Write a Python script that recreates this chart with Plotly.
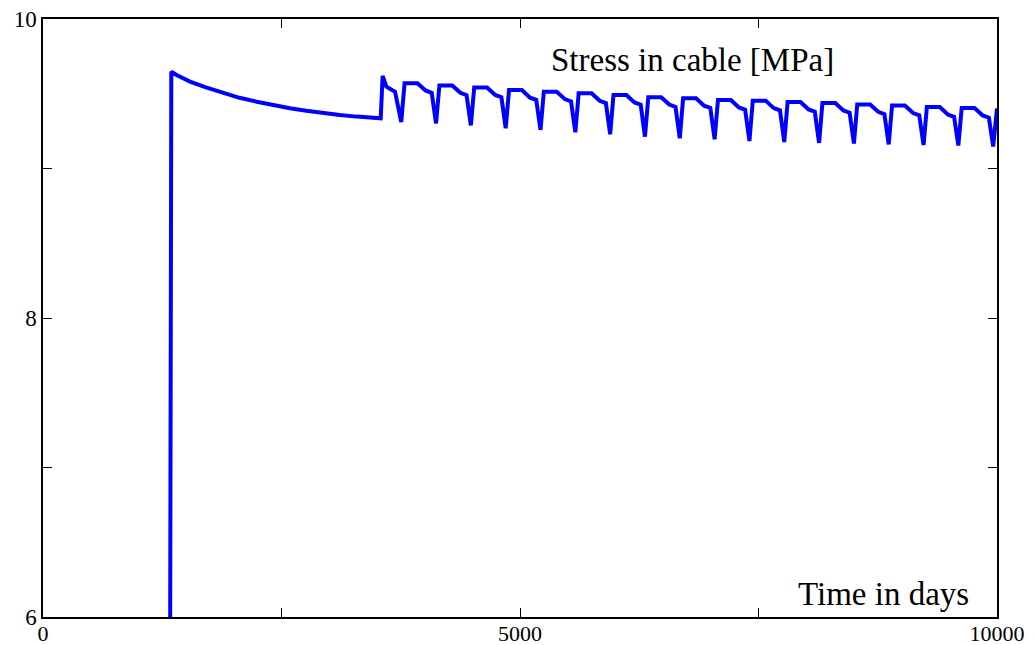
import plotly.graph_objects as go

# --- data ---
init_time = [1330, 1345, 1400, 1450, 1541, 1700, 1890, 2060, 2240, 2410, 2589,
             2760, 2938, 3110, 3288, 3450, 3540]
init_stress = [5.0, 9.647, 9.625, 9.610, 9.581, 9.544, 9.503, 9.473, 9.447, 9.423,
               9.403, 9.386, 9.369, 9.358, 9.347, 9.341, 9.336]

jump_time = [3560, 3600, 3690]
jump_stress = [9.620, 9.547, 9.514]

dip_days = [3755, 4120, 4485, 4850, 5215, 5580, 5945, 6310, 6675, 7040,
            7405, 7770, 8135, 8500, 8865, 9230, 9595, 9960]
dip_vals = [9.311, 9.302, 9.288, 9.269, 9.258, 9.242, 9.229, 9.213, 9.202, 9.195,
            9.184, 9.177, 9.171, 9.167, 9.161, 9.157, 9.154, 9.147]

rise_days = [3790, 4155, 4520, 4885, 5250, 5615, 5980, 6345, 6710, 7075,
             7440, 7805, 8170, 8535, 8900, 9265, 9630, 10000]
top_vals = [9.570, 9.555, 9.542, 9.525, 9.514, 9.503, 9.492, 9.477, 9.470, 9.458,
            9.454, 9.445, 9.438, 9.428, 9.421, 9.411, 9.405, 9.401]

flat_end_days = [3925, 4290, 4655, 5020, 5385, 5750, 6115, 6480, 6845, 7210,
                 7575, 7940, 8305, 8670, 9035, 9400, 9765]
step_end_days = [4010, 4375, 4740, 5105, 5470, 5835, 6200, 6565, 6930, 7295,
                 7660, 8025, 8390, 8755, 9120, 9485, 9850]
step_vals = [9.522, 9.506, 9.492, 9.474, 9.464, 9.453, 9.442, 9.428, 9.420, 9.408,
             9.404, 9.395, 9.388, 9.379, 9.371, 9.361, 9.355]
predip_days = [4075, 4440, 4805, 5170, 5535, 5900, 6265, 6630, 6995, 7360,
               7725, 8090, 8455, 8820, 9185, 9550, 9915]
predip_vals = [9.505, 9.490, 9.477, 9.460, 9.449, 9.438, 9.427, 9.412, 9.405, 9.393,
               9.389, 9.380, 9.373, 9.363, 9.356, 9.346, 9.340]

x_ticks = [0, 5000, 10000]
y_ticks = [6, 8, 10]

# --- assemble the polyline ---
time = list(init_time) + list(jump_time)
stress = list(init_stress) + list(jump_stress)
for k in range(len(dip_days)):
    time += [dip_days[k], rise_days[k]]
    stress += [dip_vals[k], top_vals[k]]
    if k < len(flat_end_days):
        time += [flat_end_days[k], step_end_days[k], predip_days[k]]
        stress += [top_vals[k], step_vals[k], predip_vals[k]]

font_family = "Liberation Serif, Times New Roman, serif"

fig = go.Figure()
fig.add_trace(go.Scatter(x=time, y=stress, mode="lines",
                         line=dict(color="#0000FF", width=4, shape="linear"),
                         showlegend=False, hoverinfo="skip"))

axis_common = dict(showline=True, linecolor="black", linewidth=1.5, mirror="ticks",
                   ticks="inside", ticklen=9, tickwidth=1.2, tickcolor="black",
                   showgrid=False, zeroline=False, automargin=False)

fig.update_xaxes(range=[0, 10000], tickvals=x_ticks, ticktext=[str(v) for v in x_ticks],
                 tickfont=dict(family=font_family, size=22, color="black"),
                 ticklabelstandoff=-4,
                 minor=dict(tickvals=[2500, 7500], ticks="inside", ticklen=9,
                            tickwidth=1.2, tickcolor="black"),
                 **axis_common)
fig.update_yaxes(range=[6, 10], tickvals=y_ticks, ticktext=[str(v) for v in y_ticks],
                 tickfont=dict(family=font_family, size=23, color="black"),
                 minor=dict(tickvals=[7, 9], ticks="inside", ticklen=9,
                            tickwidth=1.2, tickcolor="black"),
                 **axis_common)

fig.add_annotation(x=6803, y=9.726, text="Stress in cable [MPa]", showarrow=False,
                   font=dict(family=font_family, size=33, color="black"))
fig.add_annotation(x=8815, y=6.154, text="Time in days", showarrow=False,
                   font=dict(family=font_family, size=33, color="black"))

fig.update_layout(width=1034, height=645, autosize=False,
                  margin=dict(l=43, r=37, t=19, b=28),
                  plot_bgcolor="white", paper_bgcolor="white")

fig.write_html("out.html")
